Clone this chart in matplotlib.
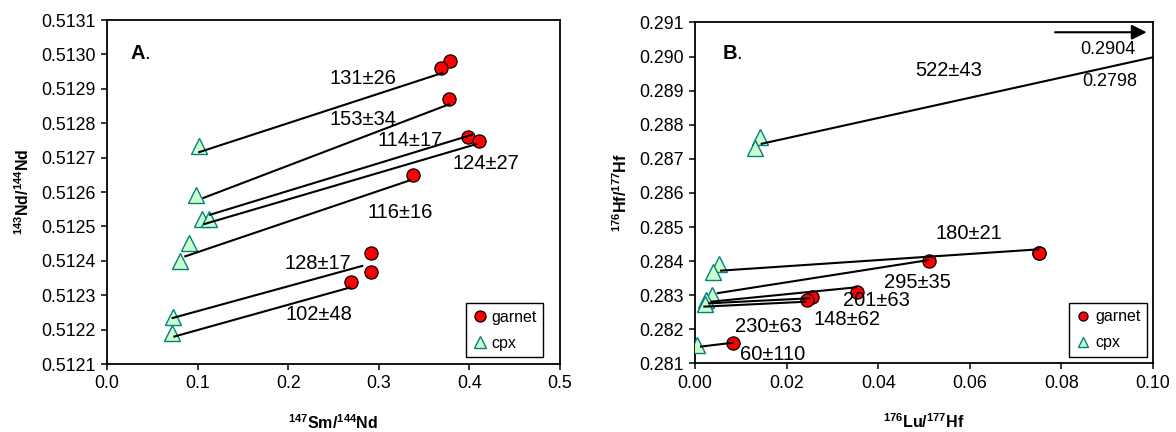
import matplotlib
matplotlib.use("Agg")
import matplotlib.pyplot as plt
from matplotlib.lines import Line2D
from matplotlib.ticker import FormatStrFormatter, MultipleLocator

plt.rcParams['font.family'] = ['Liberation Sans', 'DejaVu Sans']
plt.rcParams['mathtext.fontset'] = 'custom'
plt.rcParams['mathtext.rm'] = 'Liberation Sans'
plt.rcParams['mathtext.bf'] = 'Liberation Sans:bold'

# ---------------- Panel A data (Sm-Nd) ----------------
nd_garnet_x = [0.379, 0.369, 0.377, 0.398, 0.411, 0.338, 0.291, 0.291, 0.269]
nd_garnet_y = [0.512982, 0.512960, 0.512871, 0.512761, 0.512749, 0.512649, 0.512422, 0.512367, 0.512338]
nd_cpx_x = [0.101, 0.098, 0.105, 0.113, 0.090, 0.081, 0.073, 0.072]
nd_cpx_y = [0.512735, 0.512591, 0.512522, 0.512522, 0.512451, 0.512399, 0.512236, 0.512189]
nd_iso_x0 = [0.1007, 0.1056, 0.1126, 0.1063, 0.0853, 0.0714, 0.0732]
nd_iso_y0 = [0.512715, 0.512582, 0.512533, 0.512506, 0.512412, 0.512233, 0.512179]
nd_iso_x1 = [0.3712, 0.3786, 0.4036, 0.4087, 0.3355, 0.2829, 0.2690]
nd_iso_y1 = [0.512947, 0.512856, 0.512767, 0.512740, 0.512635, 0.512386, 0.512323]
nd_ages = ['131±26', '153±34', '114±17', '124±27', '116±16', '128±17', '102±48']
nd_age_x = [0.2826, 0.2826, 0.3344, 0.4183, 0.3234, 0.2329, 0.2340]
nd_age_y = [0.512931, 0.512812, 0.512749, 0.512684, 0.512539, 0.512391, 0.512245]
nd_xticks = [0.0, 0.1, 0.2, 0.3, 0.4, 0.5]

# ---------------- Panel B data (Lu-Hf) ----------------
hf_garnet_x = [0.0752, 0.0750, 0.0511, 0.0353, 0.0255, 0.0245, 0.0084]
hf_garnet_y = [0.284250, 0.284230, 0.284015, 0.283106, 0.282959, 0.282862, 0.281592]
hf_cpx_x = [0.0142, 0.0130, 0.0053, 0.0040, 0.0037, 0.0024, 0.0022, 0.0005]
hf_cpx_y = [0.287651, 0.287328, 0.283918, 0.283692, 0.283009, 0.282862, 0.282745, 0.281543]
hf_iso_x0 = [0.01433, 0.00546, 0.00474, 0.00343, 0.00290, 0.00181, 0.00109]
hf_iso_y0 = [0.287437, 0.283721, 0.283059, 0.282812, 0.282765, 0.282666, 0.281493]
hf_iso_x1 = [0.1000, 0.0752, 0.0511, 0.0353, 0.02511, 0.02439, 0.00836]
hf_iso_y1 = [0.289980, 0.284349, 0.284035, 0.283235, 0.282912, 0.282812, 0.281610]
hf_ages = ['522±43', '180±21', '295±35', '201±63', '148±62', '230±63', '60±110']
hf_age_x = [0.0553, 0.0597, 0.0485, 0.0395, 0.0332, 0.0160, 0.0170]
hf_age_y = [0.289587, 0.284798, 0.283361, 0.282833, 0.282276, 0.282079, 0.281250]
hf_offscale = ['0.2904', '0.2798']
hf_offscale_x = [0.0902, 0.0905]
hf_offscale_y = [0.290194, 0.289264]
hf_xticks = [0.00, 0.02, 0.04, 0.06, 0.08, 0.10]

RED = '#FF0000'
GREEN = '#CCFFCC'
TEAL = '#008080'

fig = plt.figure(figsize=(11.76, 4.32), dpi=100)
axA = fig.add_axes([0.0910, 0.1574, 0.3852, 0.7963])
axB = fig.add_axes([0.5910, 0.1586, 0.3895, 0.7894])


def style_axes(ax):
    for sp in ax.spines.values():
        sp.set_color('black')
        sp.set_linewidth(1.3)
    ax.tick_params(axis='both', direction='out', length=4, width=1.1,
                   labelsize=12.8, colors='black', pad=4)
    ax.tick_params(top=False, right=False)


def draw_panel(ax, gx, gy, cx, cy, x0, y0, x1, y1, ms_c, ms_t):
    ax.plot(cx, cy, linestyle='none', marker='^', markersize=ms_t,
            markerfacecolor=GREEN, markeredgecolor=TEAL, markeredgewidth=1.0, zorder=3)
    ax.plot(gx, gy, linestyle='none', marker='o', markersize=ms_c,
            markerfacecolor=RED, markeredgecolor='black', markeredgewidth=0.9, zorder=3)
    for a, b, c, d in zip(x0, y0, x1, y1):
        ax.plot([a, c], [b, d], color='black', linewidth=1.5, zorder=4,
                solid_capstyle='butt')


# ---- Panel A ----
draw_panel(axA, nd_garnet_x, nd_garnet_y, nd_cpx_x, nd_cpx_y,
           nd_iso_x0, nd_iso_y0, nd_iso_x1, nd_iso_y1, 9.5, 11)
axA.set_xlim(0.0, 0.5)
axA.set_ylim(0.5121, 0.5131)
axA.set_xticks(nd_xticks)
axA.xaxis.set_major_formatter(FormatStrFormatter('%.1f'))
axA.yaxis.set_major_locator(MultipleLocator(0.0001))
axA.yaxis.set_major_formatter(FormatStrFormatter('%.4f'))
style_axes(axA)
for t, x, y in zip(nd_ages, nd_age_x, nd_age_y):
    axA.text(x, y, t, fontsize=14.5, ha='center', va='center', zorder=5)
axA.text(0.025, 0.513004, r'$\mathbf{A}$.', fontsize=14.5, ha='left', va='center')
axA.set_xlabel(r'$\mathbf{^{147}Sm/^{144}Nd}$', fontsize=11.5, labelpad=15)
axA.set_ylabel(r'$\mathbf{^{143}Nd/^{144}Nd}$', fontsize=11.5, labelpad=7)

hA = [Line2D([], [], linestyle='none', marker='o', markersize=8,
             markerfacecolor=RED, markeredgecolor='black', markeredgewidth=0.9, label='garnet'),
      Line2D([], [], linestyle='none', marker='^', markersize=9,
             markerfacecolor=GREEN, markeredgecolor=TEAL, markeredgewidth=1.0, label='cpx')]
legA = axA.legend(handles=hA, loc='lower right', bbox_to_anchor=(0.963, 0.0195),
                  borderaxespad=0, fontsize=11.5, fancybox=False, framealpha=1,
                  edgecolor='black', handlelength=0.9, handletextpad=0.3,
                  labelspacing=0.7, borderpad=0.4)
legA.get_frame().set_linewidth(1.0)

# ---- Panel B ----
draw_panel(axB, hf_garnet_x, hf_garnet_y, hf_cpx_x, hf_cpx_y,
           hf_iso_x0, hf_iso_y0, hf_iso_x1, hf_iso_y1, 9.5, 11)
axB.set_xlim(0.0, 0.10)
axB.set_ylim(0.281, 0.291)
axB.set_xticks(hf_xticks)
axB.xaxis.set_major_formatter(FormatStrFormatter('%.2f'))
axB.yaxis.set_major_locator(MultipleLocator(0.001))
axB.yaxis.set_major_formatter(FormatStrFormatter('%.3f'))
style_axes(axB)
for t, x, y in zip(hf_ages, hf_age_x, hf_age_y):
    axB.text(x, y, t, fontsize=14.5, ha='center', va='center', zorder=5)
for t, x, y in zip(hf_offscale, hf_offscale_x, hf_offscale_y):
    axB.text(x, y, t, fontsize=13, ha='center', va='center', zorder=5)
axB.annotate('', xy=(0.0986, 0.290713), xytext=(0.0786, 0.290713),
             arrowprops=dict(arrowstyle='-|>,head_length=0.9,head_width=0.45',
                             color='black', lw=1.5, shrinkA=0, shrinkB=0))
axB.text(0.0058, 0.290097, r'$\mathbf{B}$.', fontsize=14.5, ha='left', va='center')
axB.set_xlabel(r'$\mathbf{^{176}Lu/^{177}Hf}$', fontsize=11.5, labelpad=15)
axB.set_ylabel(r'$\mathbf{^{176}Hf/^{177}Hf}$', fontsize=11.5, labelpad=7)

hB = [Line2D([], [], linestyle='none', marker='o', markersize=6.5,
             markerfacecolor=RED, markeredgecolor='black', markeredgewidth=0.9, label='garnet'),
      Line2D([], [], linestyle='none', marker='^', markersize=7.5,
             markerfacecolor=GREEN, markeredgecolor=TEAL, markeredgewidth=1.0, label='cpx')]
legB = axB.legend(handles=hB, loc='lower right', bbox_to_anchor=(0.986, 0.02),
                  borderaxespad=0, fontsize=11.5, fancybox=False, framealpha=1,
                  edgecolor='black', handlelength=0.9, handletextpad=0.3,
                  labelspacing=0.7, borderpad=0.4)
legB.get_frame().set_linewidth(1.0)

fig.savefig('out.png', dpi=100)
